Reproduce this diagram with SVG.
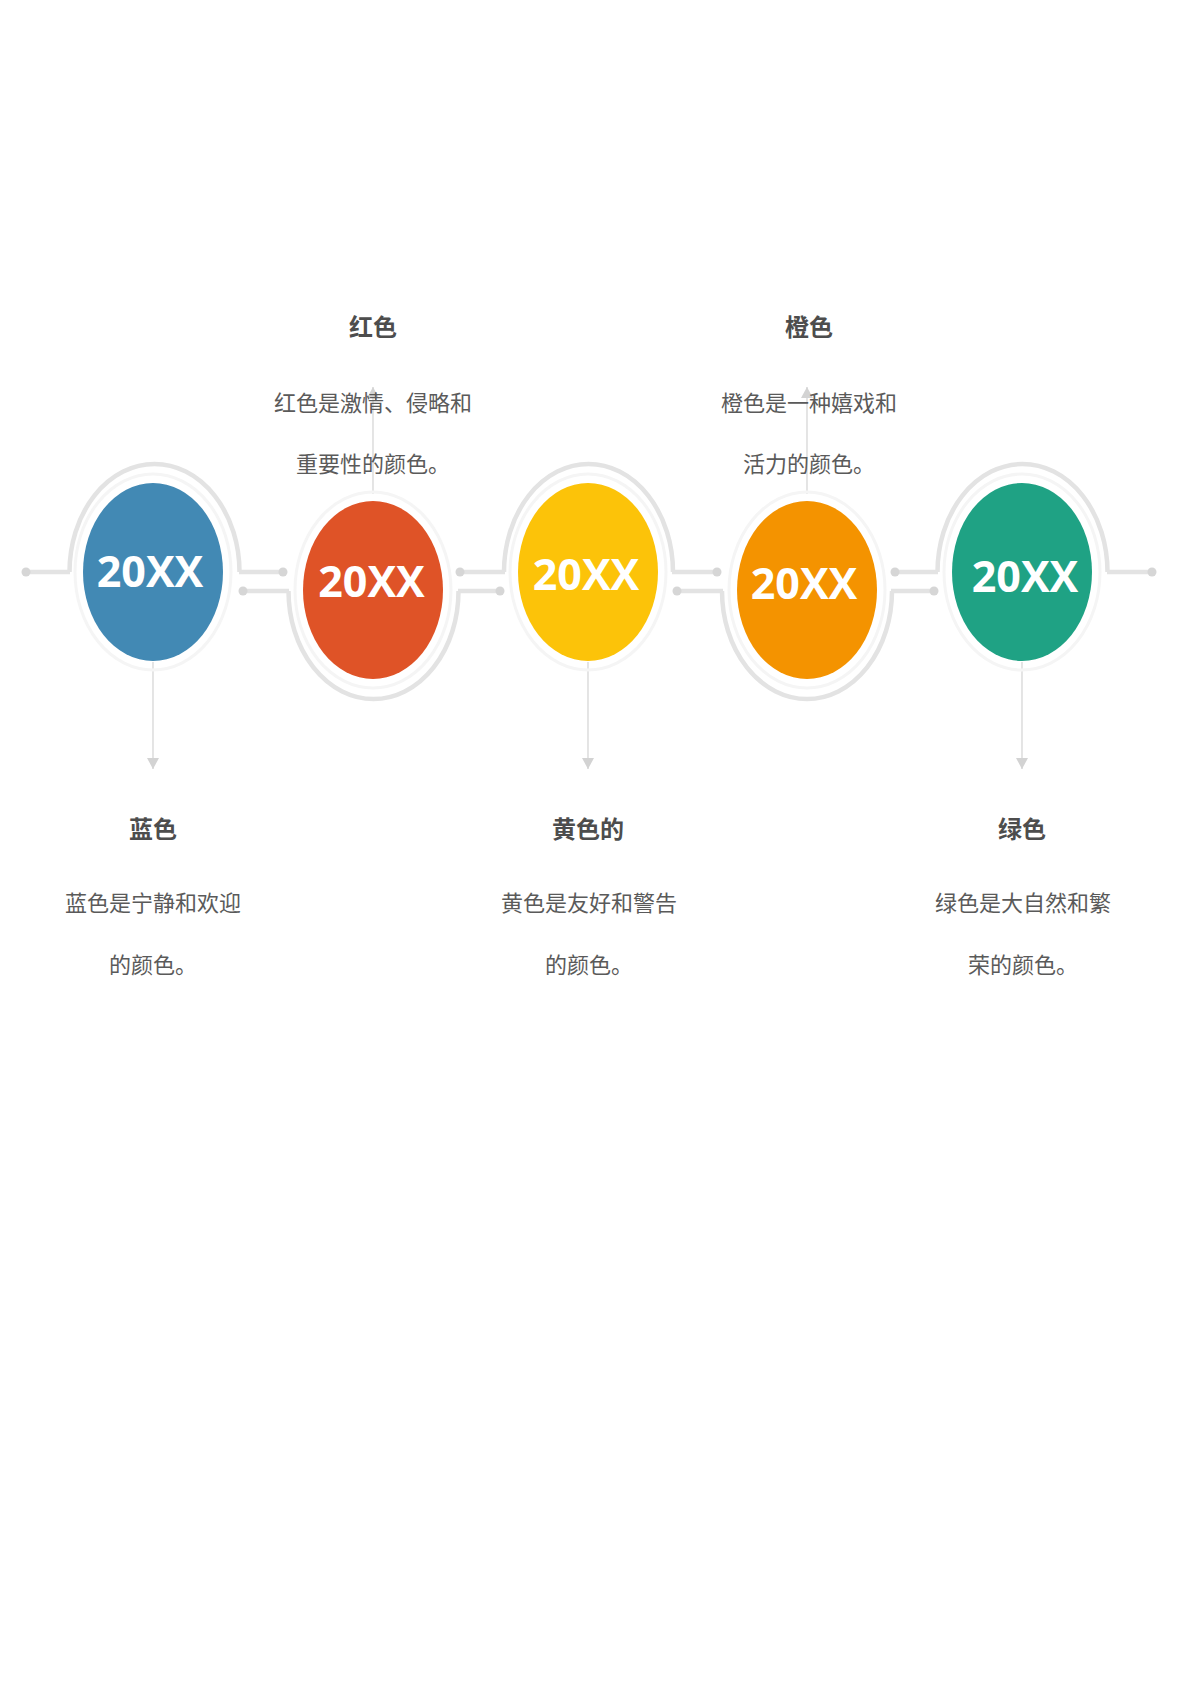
<svg xmlns="http://www.w3.org/2000/svg" width="1191" height="1684" viewBox="0 0 1191 1684">
<style>
.ring{fill:none;stroke:#e3e3e3;stroke-width:4.5}
.halo{fill:none;stroke:#f5f5f5;stroke-width:3}
.line{fill:none;stroke:#e3e3e3;stroke-width:4.5}
.dot{fill:#d6d6d6}
.vl{stroke:#d3d3d3;stroke-width:1.2;marker-end:url(#arr)}
.yr{font-family:"Open Sans","DejaVu Sans",sans-serif;font-weight:bold;font-size:43px;fill:#ffffff;text-anchor:middle}
.tt{font-family:"Noto Sans CJK SC",sans-serif;font-weight:bold;font-size:24px;fill:#4d4d4d;text-anchor:middle}
.ds{font-family:"Noto Sans CJK SC",sans-serif;font-size:22px;fill:#5a5a5a;text-anchor:middle}
</style>
<defs>
<marker id="arr" viewBox="0 0 12 12" refX="11" refY="6" markerWidth="12" markerHeight="12" markerUnits="userSpaceOnUse" orient="auto">
<path d="M0,0 L11,6 L0,12 z" fill="#d3d3d3"/>
</marker>
</defs>
<rect width="1191" height="1684" fill="#ffffff"/>

<g id="connectors">
<line class="line" x1="26" y1="572" x2="70" y2="572"/>
<line class="line" x1="239" y1="572" x2="283" y2="572"/>
<line class="line" x1="243" y1="591" x2="289" y2="591"/>
<line class="line" x1="458" y1="591" x2="500" y2="591"/>
<line class="line" x1="460" y1="572" x2="505" y2="572"/>
<line class="line" x1="672" y1="572" x2="717" y2="572"/>
<line class="line" x1="677" y1="591" x2="723" y2="591"/>
<line class="line" x1="891" y1="591" x2="934" y2="591"/>
<line class="line" x1="895" y1="572" x2="938" y2="572"/>
<line class="line" x1="1107" y1="572" x2="1152" y2="572"/>
<circle class="dot" cx="26" cy="572" r="4.5"/>
<circle class="dot" cx="283" cy="572" r="4.5"/>
<circle class="dot" cx="243" cy="591" r="4.5"/>
<circle class="dot" cx="500" cy="591" r="4.5"/>
<circle class="dot" cx="460" cy="572" r="4.5"/>
<circle class="dot" cx="717" cy="572" r="4.5"/>
<circle class="dot" cx="677" cy="591" r="4.5"/>
<circle class="dot" cx="934" cy="591" r="4.5"/>
<circle class="dot" cx="895" cy="572" r="4.5"/>
<circle class="dot" cx="1152" cy="572" r="4.5"/>
<line class="vl" x1="153" y1="662" x2="153" y2="769"/>
<line class="vl" x1="373" y1="494" x2="373" y2="387"/>
<line class="vl" x1="588" y1="662" x2="588" y2="769"/>
<line class="vl" x1="807" y1="494" x2="807" y2="387"/>
<line class="vl" x1="1022" y1="662" x2="1022" y2="769"/>
</g>

<g id="node-blue">
<path class="ring" d="M69.5,572 A85,108 0 0 1 239.5,572"/>
<ellipse class="halo" cx="153" cy="572" rx="78" ry="98"/>
<ellipse cx="153" cy="572" rx="70" ry="89" fill="#4289b4"/>
<text class="yr" x="150" y="587">20XX</text>
<text class="tt" x="153" y="838">蓝色</text>
<text class="ds" x="153" y="911">蓝色是宁静和欢迎</text>
<text class="ds" x="153" y="973">的颜色。</text>
</g>

<g id="node-red">
<path class="ring" d="M288.5,591 A85,108 0 0 0 458.5,591"/>
<ellipse class="halo" cx="373" cy="590" rx="78" ry="98"/>
<ellipse cx="373" cy="590" rx="70" ry="89" fill="#df5327"/>
<text class="yr" x="371.5" y="597">20XX</text>
<text class="tt" x="373" y="336">红色</text>
<text class="ds" x="373" y="411">红色是激情、侵略和</text>
<text class="ds" x="373" y="472">重要性的颜色。</text>
</g>

<g id="node-yellow">
<path class="ring" d="M504,572 A84.5,108 0 0 1 673,572"/>
<ellipse class="halo" cx="588" cy="572" rx="78" ry="98"/>
<ellipse cx="588" cy="572" rx="70" ry="89" fill="#fcc309"/>
<text class="yr" x="586" y="590">20XX</text>
<text class="tt" x="588" y="838">黄色的</text>
<text class="ds" x="589" y="911">黄色是友好和警告</text>
<text class="ds" x="589" y="973">的颜色。</text>
</g>

<g id="node-orange">
<path class="ring" d="M722,591 A85,108 0 0 0 892,591"/>
<ellipse class="halo" cx="807" cy="590" rx="78" ry="98"/>
<ellipse cx="807" cy="590" rx="70" ry="89" fill="#f49300"/>
<text class="yr" x="804" y="599">20XX</text>
<text class="tt" x="809" y="336">橙色</text>
<text class="ds" x="809" y="411">橙色是一种嬉戏和</text>
<text class="ds" x="809" y="472">活力的颜色。</text>
</g>

<g id="node-green">
<path class="ring" d="M937.5,572 A85,108 0 0 1 1107.5,572"/>
<ellipse class="halo" cx="1022" cy="572" rx="78" ry="98"/>
<ellipse cx="1022" cy="572" rx="70" ry="89" fill="#1fa284"/>
<text class="yr" x="1025" y="592">20XX</text>
<text class="tt" x="1022" y="838">绿色</text>
<text class="ds" x="1023" y="911">绿色是大自然和繁</text>
<text class="ds" x="1023" y="973">荣的颜色。</text>
</g>
</svg>
